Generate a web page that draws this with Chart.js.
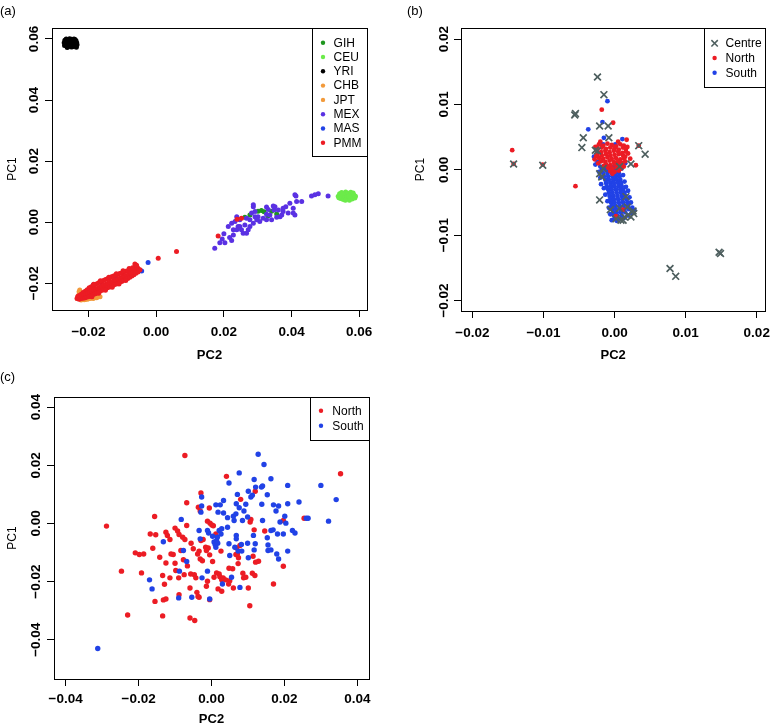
<!DOCTYPE html>
<html><head><meta charset="utf-8">
<script src="https://cdn.jsdelivr.net/npm/chart.js@4.4.0/dist/chart.umd.min.js"></script>
<style>
html,body{margin:0;padding:0;background:#fff;}
#wrap{position:relative;width:777px;height:726px;overflow:hidden;background:#fff;}
canvas{position:absolute;}
.lab{position:absolute;font-family:"Liberation Sans",Arial,sans-serif;font-size:13px;color:#000;line-height:13px;}
</style></head><body>
<div id="wrap">
<canvas id="ca" width="390" height="370" style="left:0;top:0"></canvas>
<canvas id="cb" width="387" height="370" style="left:390px;top:0"></canvas>
<canvas id="cc" width="390" height="361" style="left:0;top:365px"></canvas>
<div class="lab" style="left:0;top:4px">(a)</div>
<div class="lab" style="left:407px;top:4px">(b)</div>
<div class="lab" style="left:0;top:370px">(c)</div>
</div>
<script>
const FONT = '"Liberation Sans", Arial, Helvetica, sans-serif';

// ---------- Panel (a) ----------
const aXTicks = [-0.02, 0.00, 0.02, 0.04, 0.06];
const aYTicks = [-0.02, 0.00, 0.02, 0.04, 0.06];
const aLabels = ['GIH','CEU','YRI','CHB','JPT','MEX','MAS','PMM'];
const aGIH = [[0.0262,0.0016],[0.0277,0.0024],[0.0301,0.0036],[0.0311,0.0038],[0.0319,0.0034],[0.0341,0.0036],[0.0356,0.0027],[0.0330,0.0020]];
const aCEU = [[0.0538,0.0085],[0.0542,0.0093],[0.0545,0.0078],[0.0548,0.0097],[0.0550,0.0088],[0.0553,0.0074],[0.0556,0.0092],[0.0558,0.0083],[0.0560,0.0099],[0.0562,0.0077],[0.0565,0.0089],[0.0567,0.0095],[0.0569,0.0080],[0.0571,0.0072],[0.0573,0.0090],[0.0575,0.0098],[0.0577,0.0084],[0.0579,0.0076],[0.0581,0.0092],[0.0583,0.0082],[0.0585,0.0088],[0.0587,0.0079],[0.0589,0.0085],[0.0540,0.0080],[0.0552,0.0095],[0.0564,0.0083],[0.0574,0.0079],[0.0582,0.0096],[0.0559,0.0072],[0.0570,0.0086]];
const aYRI = [[-0.0272,0.0588],[-0.0270,0.0596],[-0.0268,0.0580],[-0.0266,0.0600],[-0.0264,0.0590],[-0.0262,0.0577],[-0.0260,0.0597],[-0.0258,0.0585],[-0.0256,0.0601],[-0.0254,0.0580],[-0.0252,0.0593],[-0.0250,0.0599],[-0.0249,0.0584],[-0.0247,0.0575],[-0.0245,0.0592],[-0.0243,0.0600],[-0.0241,0.0587],[-0.0239,0.0578],[-0.0237,0.0594],[-0.0236,0.0573],[-0.0235,0.0588],[-0.0234,0.0581],[-0.0271,0.0579],[-0.0263,0.0572],[-0.0255,0.0592],[-0.0246,0.0582],[-0.0240,0.0598],[-0.0265,0.0593],[-0.0251,0.0574],[-0.0244,0.0577],[-0.0258,0.0576],[-0.0238,0.0585]];
const aCHB = [[-0.0226,-0.0222],[-0.0230,-0.0240],[-0.0219,-0.0252],[-0.0210,-0.0253],[-0.0200,-0.0251],[-0.0190,-0.0248],[-0.0224,-0.0232],[-0.0215,-0.0246],[-0.0205,-0.0244],[-0.0195,-0.0240],[-0.0183,-0.0245],[-0.0172,-0.0242]];
const aJPT = [[-0.0233,-0.0250],[-0.0222,-0.0255],[-0.0213,-0.0254],[-0.0204,-0.0252],[-0.0196,-0.0250],[-0.0186,-0.0250],[-0.0176,-0.0247],[-0.0166,-0.0244],[-0.0228,-0.0228],[-0.0218,-0.0240],[-0.0208,-0.0236],[-0.0198,-0.0232]];
const aMEX = [[0.0173,-0.0085],[0.0188,-0.0067],[0.0203,-0.0067],[0.0200,-0.0038],[0.0223,-0.0060],[0.0213,-0.0014],[0.0228,-0.0025],[0.0223,-0.0003],[0.0233,0.0002],[0.0242,-0.0014],[0.0252,-0.0025],[0.0257,-0.0036],[0.0238,0.0018],[0.0247,0.0008],[0.0267,0.0013],[0.0282,0.0030],[0.0287,0.0051],[0.0292,0.0035],[0.0301,0.0018],[0.0306,0.0002],[0.0316,0.0013],[0.0326,0.0026],[0.0331,0.0042],[0.0336,0.0024],[0.0348,0.0040],[0.0351,0.0051],[0.0361,0.0040],[0.0366,0.0018],[0.0375,0.0035],[0.0383,0.0051],[0.0390,0.0030],[0.0395,0.0062],[0.0405,0.0046],[0.0415,0.0068],[0.0410,0.0024],[0.0413,0.0086],[0.0430,0.0068],[0.0459,0.0086],[0.0469,0.0090],[0.0479,0.0093],[0.0508,0.0086],[0.0277,-0.0014],[0.0287,-0.0003],[0.0272,-0.0025],[0.0262,-0.0009],[0.0297,0.0008],[0.0326,0.0008],[0.0356,0.0016],[0.0341,0.0008],[0.0371,0.0024],[0.0277,0.0008],[0.0292,0.0018],[0.0247,-0.0014],[0.0238,-0.0025],[0.0267,-0.0036],[0.0228,-0.0042],[0.0410,0.0090],[0.0405,0.0030],[0.0287,0.0057],[0.0326,0.0050],[0.0346,0.0053],[0.0375,0.0046],[0.0217,-0.0050],[0.0195,-0.0055]];
const aMAS = [[-0.0186,-0.0206],[-0.0024,-0.0132],[-0.0043,-0.0160],[-0.0077,-0.0167],[-0.0160,-0.0205],[-0.0120,-0.0185],[-0.0200,-0.0228],[-0.0215,-0.0236]];
const aPMM = [[-0.0234,-0.0250],[-0.0232,-0.0243],
[-0.0228,-0.0252],[-0.0228,-0.0240],[-0.0226,-0.0246],
[-0.0222,-0.0250],[-0.0222,-0.0236],[-0.0220,-0.0243],
[-0.0216,-0.0249],[-0.0216,-0.0230],[-0.0214,-0.0240],
[-0.0210,-0.0247],[-0.0210,-0.0226],[-0.0208,-0.0236],
[-0.0204,-0.0245],[-0.0204,-0.0221],[-0.0202,-0.0233],
[-0.0198,-0.0243],[-0.0198,-0.0215],[-0.0196,-0.0229],
[-0.0192,-0.0240],[-0.0192,-0.0211],[-0.0190,-0.0226],
[-0.0186,-0.0237],[-0.0186,-0.0208],[-0.0184,-0.0222],
[-0.0180,-0.0234],[-0.0180,-0.0204],[-0.0178,-0.0219],
[-0.0174,-0.0231],[-0.0174,-0.0201],[-0.0172,-0.0216],
[-0.0168,-0.0227],[-0.0168,-0.0197],[-0.0166,-0.0212],
[-0.0162,-0.0224],[-0.0162,-0.0194],[-0.0160,-0.0209],
[-0.0156,-0.0221],[-0.0156,-0.0191],[-0.0154,-0.0206],
[-0.0150,-0.0218],[-0.0150,-0.0188],[-0.0148,-0.0203],
[-0.0144,-0.0215],[-0.0144,-0.0185],[-0.0142,-0.0200],
[-0.0138,-0.0212],[-0.0138,-0.0182],[-0.0136,-0.0197],
[-0.0132,-0.0209],[-0.0132,-0.0179],[-0.0130,-0.0194],
[-0.0126,-0.0206],[-0.0126,-0.0176],[-0.0124,-0.0191],
[-0.0120,-0.0203],[-0.0120,-0.0174],[-0.0118,-0.0189],
[-0.0114,-0.0200],[-0.0114,-0.0171],[-0.0112,-0.0186],
[-0.0108,-0.0197],[-0.0108,-0.0168],[-0.0106,-0.0183],
[-0.0102,-0.0194],[-0.0102,-0.0166],[-0.0100,-0.0180],
[-0.0096,-0.0190],[-0.0096,-0.0163],[-0.0094,-0.0177],
[-0.0090,-0.0187],[-0.0090,-0.0161],[-0.0088,-0.0175],
[-0.0084,-0.0184],[-0.0084,-0.0159],[-0.0082,-0.0172],
[-0.0078,-0.0180],[-0.0078,-0.0157],[-0.0076,-0.0169],
[-0.0072,-0.0176],[-0.0072,-0.0155],[-0.0070,-0.0166],
[-0.0066,-0.0172],[-0.0066,-0.0153],[-0.0064,-0.0163],
[-0.0060,-0.0167],[-0.0060,-0.0152],
[-0.0054,-0.0163],[-0.0054,-0.0151],
[-0.0048,-0.0156],
[-0.0190,-0.0244],[-0.0170,-0.0233],[-0.0150,-0.0223],[-0.0130,-0.0213],[-0.0110,-0.0202],[-0.0090,-0.0191],
[-0.0185,-0.0203],[-0.0165,-0.0192],[-0.0140,-0.0180],[-0.0118,-0.0169],[-0.0098,-0.0159],[-0.0080,-0.0152],[-0.0070,-0.0149],[-0.0058,-0.0146],
[-0.0063,-0.0137],[-0.0058,-0.0141],[0.0006,-0.0118],[0.0060,-0.0096],
[0.0183,-0.0045],[0.0239,0.0010],[0.0252,0.0013]];

// ---------- Panel (b) ----------
const bXTicks = [-0.02, -0.01, 0.00, 0.01, 0.02];
const bYTicks = [-0.02, -0.01, 0.00, 0.01, 0.02];
const bLabels = ['Centre','North','South'];
const bCentre = [[-0.0024,0.0142],[-0.0015,0.0115],[-0.0056,0.0084],[-0.0055,0.0086],[-0.0021,0.0067],[-0.0009,0.0067],[-0.0044,0.0049],[-0.0046,0.0034],[-0.0008,0.0049],[-0.0024,0.0029],[-0.0027,0.0030],[-0.0142,0.0009],[-0.0101,0.0007],[0.0023,0.0009],[0.0043,0.0024],[0.0034,0.0037],[-0.0016,0.0002],[-0.0021,-0.0006],[-0.0018,-0.0011],[-0.0021,-0.0046],[-0.0006,-0.0061],[0.0007,-0.0059],[0.0002,-0.0075],[0.0009,-0.0077],[0.0012,-0.0077],[0.0014,-0.0072],[0.0019,-0.0069],[0.0026,-0.0063],[0.0027,-0.0067],[0.0023,-0.0072],[0.0018,-0.0057],[0.0016,-0.0041],[0.0007,0.0005],[0.0078,-0.0151],[0.0086,-0.0163],[0.0147,-0.0126],[0.0149,-0.0128]];
const bNorth = [[-0.0144,0.0030],[-0.0142,0.0009],[-0.0101,0.0008],[-0.0055,-0.0025],[-0.0018,0.0092],[-0.0002,0.0072],[0.0017,0.0046],[0.0034,0.0037],[0.0022,0.0017],[0.0030,0.0007],[0.0012,-0.0061],[0.0002,-0.0071],[-0.0023,0.0010],
[-0.0022,0.0039],[-0.0016,0.0037],[-0.0010,0.0040],[-0.0004,0.0038],[0.0002,0.0036],[0.0008,0.0039],[0.0013,0.0037],
[-0.0024,0.0033],[-0.0018,0.0034],[-0.0012,0.0032],[-0.0006,0.0034],[0.0000,0.0033],[0.0006,0.0031],[0.0012,0.0034],[0.0016,0.0032],
[-0.0025,0.0028],[-0.0019,0.0027],[-0.0013,0.0029],[-0.0007,0.0027],[-0.0001,0.0029],[0.0005,0.0028],[0.0011,0.0026],[0.0016,0.0028],
[-0.0024,0.0023],[-0.0018,0.0022],[-0.0012,0.0024],[-0.0006,0.0022],[0.0000,0.0023],[0.0006,0.0024],[0.0012,0.0022],[0.0015,0.0020],
[-0.0022,0.0018],[-0.0016,0.0017],[-0.0010,0.0019],[-0.0004,0.0017],[0.0002,0.0018],[0.0008,0.0016],[0.0013,0.0018],
[-0.0019,0.0013],[-0.0013,0.0012],[-0.0007,0.0014],[-0.0001,0.0012],[0.0005,0.0013],[0.0010,0.0011],
[-0.0012,0.0008],[-0.0006,0.0007],[0.0000,0.0009],[0.0006,0.0007],[0.0011,0.0008],
[-0.0009,0.0003],[-0.0003,0.0002],[0.0003,0.0004],[0.0009,0.0002],
[-0.0006,-0.0002],[0.0000,-0.0003],[0.0006,-0.0001],
[-0.0027,0.0035],[-0.0026,0.0021],[0.0019,0.0025],[0.0018,0.0035],[-0.0020,0.0043],[0.0005,0.0043],[-0.0028,0.0016],[0.0013,0.0005],[-0.0015,0.0006],[0.0015,0.0013],[-0.0003,-0.0006]];
const bSouth = [[-0.0010,0.0105],[-0.0017,0.0073],[-0.0037,0.0062],[-0.0015,0.0049],[0.0011,0.0047],[0.0001,0.0039],[-0.0016,0.0039],[-0.0029,0.0020],[-0.0027,0.0008],[-0.0020,0.0040],
[-0.0020,0.0005],[-0.0014,0.0005],[-0.0008,0.0005],[-0.0002,0.0005],[0.0004,0.0005],
[-0.0018,0.0000],[-0.0012,0.0000],[-0.0006,0.0000],[0.0000,0.0000],[0.0006,0.0000],
[-0.0016,-0.0005],[-0.0010,-0.0005],[-0.0004,-0.0005],[0.0001,-0.0005],[0.0006,-0.0005],
[-0.0015,-0.0010],[-0.0009,-0.0010],[-0.0003,-0.0010],[0.0002,-0.0010],[0.0007,-0.0010],
[-0.0013,-0.0015],[-0.0008,-0.0015],[-0.0002,-0.0015],[0.0003,-0.0015],[0.0008,-0.0015],
[-0.0012,-0.0020],[-0.0006,-0.0020],[-0.0001,-0.0020],[0.0005,-0.0020],[0.0009,-0.0020],
[-0.0011,-0.0025],[-0.0005,-0.0025],[0.0000,-0.0025],[0.0006,-0.0025],[0.0010,-0.0025],
[-0.0009,-0.0030],[-0.0004,-0.0030],[0.0002,-0.0030],[0.0008,-0.0030],[0.0012,-0.0030],
[-0.0008,-0.0035],[-0.0003,-0.0035],[0.0003,-0.0035],[0.0009,-0.0035],[0.0014,-0.0035],
[-0.0007,-0.0040],[-0.0002,-0.0040],[0.0004,-0.0040],[0.0010,-0.0040],[0.0015,-0.0040],
[-0.0006,-0.0045],[-0.0001,-0.0045],[0.0005,-0.0045],[0.0011,-0.0045],[0.0017,-0.0045],
[-0.0005,-0.0050],[0.0000,-0.0050],[0.0006,-0.0050],[0.0012,-0.0050],[0.0018,-0.0050],
[-0.0004,-0.0055],[0.0001,-0.0055],[0.0007,-0.0055],[0.0013,-0.0055],[0.0019,-0.0055],
[-0.0003,-0.0060],[0.0002,-0.0060],[0.0008,-0.0060],[0.0014,-0.0060],[0.0020,-0.0060],
[-0.0002,-0.0065],[0.0003,-0.0065],[0.0009,-0.0065],[0.0015,-0.0065],
[-0.0001,-0.0070],[0.0004,-0.0070],[0.0010,-0.0070],
[0.0000,-0.0075],[0.0006,-0.0075],
[-0.0022,-0.0003],[-0.0020,-0.0012],[-0.0019,-0.0022],[0.0010,0.0002],[0.0012,-0.0008],[0.0014,-0.0018],[0.0016,-0.0026],[-0.0015,-0.0028],[-0.0013,-0.0038],[0.0019,-0.0032],[0.0021,-0.0042],[0.0023,-0.0050],[0.0025,-0.0058],[-0.0010,-0.0048],[-0.0008,-0.0058],[0.0024,-0.0066],[0.0019,-0.0070],[-0.0006,-0.0068],[0.0013,-0.0074],[-0.0004,-0.0077],[0.0003,-0.0078],[-0.0024,0.0012],[0.0015,0.0010],[0.0028,-0.0062],[0.0004,0.0010]];

// ---------- Panel (c) ----------
const cXTicks = [-0.04, -0.02, 0.00, 0.02, 0.04];
const cYTicks = [-0.04, -0.02, 0.00, 0.02, 0.04];
const cLabels = ['North','South'];
const cNorth = [[-0.0073,0.0234],[-0.0288,-0.0009],[-0.0247,-0.0164],[-0.0230,-0.0315],[-0.0209,-0.0101],[-0.0198,-0.0107],[-0.0186,-0.0105],[-0.0192,-0.0170],[-0.0168,-0.0036],[-0.0153,-0.0039],[-0.0156,0.0024],[-0.0161,-0.0085],[-0.0142,-0.0116],[-0.0134,-0.0179],[-0.0129,-0.0209],[-0.0155,-0.0268],[-0.0132,-0.0263],[-0.0125,-0.0260],[-0.0134,-0.0318],[-0.0125,-0.0136],[-0.0125,-0.0030],[-0.0121,-0.0041],[-0.0114,-0.0055],[-0.0111,-0.0105],[-0.0105,-0.0107],[-0.0100,-0.0016],[-0.0093,-0.0026],[-0.0089,-0.0038],[-0.0100,-0.0137],[-0.0098,-0.0162],[-0.0090,-0.0187],[-0.0089,-0.0245],[-0.0084,-0.0093],[-0.0077,-0.0125],[-0.0075,-0.0176],[-0.0068,0.0071],[-0.0073,-0.0055],[-0.0066,-0.0146],[-0.0059,-0.0222],[-0.0059,-0.0325],[-0.0046,-0.0334],[-0.0056,-0.0068],[-0.0050,-0.0087],[-0.0047,-0.0176],[-0.0043,-0.0187],[-0.0040,-0.0237],[-0.0037,-0.0251],[-0.0034,-0.0254],[-0.0036,0.0056],[-0.0031,0.0043],[-0.0029,0.0105],[-0.0034,-0.0095],[-0.0031,-0.0122],[-0.0025,-0.0128],[-0.0023,-0.0055],[-0.0016,-0.0082],[-0.0014,-0.0093],[-0.0014,-0.0216],[-0.0011,0.0008],[-0.0006,0.0053],[-0.0005,-0.0262],[-0.0004,0.0001],[0.0001,-0.0005],[0.0003,-0.0131],[0.0005,-0.0008],[-0.0009,-0.0084],[-0.0005,-0.0108],[0.0014,-0.0170],[0.0018,-0.0225],[0.0021,-0.0174],[0.0023,-0.0183],[0.0028,-0.0194],[0.0028,-0.0233],[0.0032,-0.0187],[0.0026,-0.0095],[0.0041,0.0162],[0.0048,-0.0154],[0.0050,-0.0197],[0.0060,-0.0222],[0.0067,-0.0107],[0.0071,-0.0105],[0.0069,-0.0084],[0.0078,-0.0076],[0.0074,-0.0118],[0.0080,0.0083],[0.0086,-0.0171],[0.0088,-0.0187],[0.0101,-0.0222],[0.0105,-0.0283],[0.0108,0.0014],[0.0106,0.0005],[0.0112,-0.0171],[0.0114,-0.0113],[0.0119,-0.0179],[0.0120,0.0111],[0.0117,-0.0022],[0.0121,-0.0133],[0.0129,-0.0130],[0.0146,-0.0026],[0.0170,-0.0208],[0.0197,0.0010],[0.0197,-0.0147],[0.0254,0.0018],[0.0354,0.0171],[-0.0068,-0.0007],[-0.0114,-0.0187],[-0.0079,-0.0047],[-0.0029,-0.0059],[-0.0011,-0.0199],[0.0007,-0.0185],[0.0039,-0.0194],[0.0058,-0.0156],[0.0047,-0.0208],[0.0094,-0.0185],[0.0073,-0.0138],[0.0012,-0.0036],[-0.0038,-0.0105],[-0.0057,-0.0174]];
const cSouth = [[-0.0312,-0.0430],[-0.0170,-0.0194],[-0.0163,-0.0225],[-0.0132,-0.0063],[-0.0090,-0.0256],[-0.0088,-0.0164],[-0.0083,0.0014],[-0.0077,-0.0093],[-0.0068,-0.0131],[-0.0054,-0.0254],[-0.0031,-0.0053],[-0.0034,-0.0024],[-0.0027,0.0060],[-0.0029,0.0039],[-0.0027,0.0091],[-0.0026,-0.0187],[-0.0011,-0.0164],[-0.0008,-0.0033],[-0.0005,-0.0260],[0.0007,-0.0064],[0.0010,-0.0072],[0.0014,-0.0059],[0.0016,-0.0047],[0.0012,0.0064],[0.0018,0.0039],[0.0024,0.0064],[0.0021,-0.0024],[0.0026,-0.0036],[0.0028,-0.0018],[0.0033,0.0079],[0.0033,0.0036],[0.0030,-0.0208],[0.0048,0.0139],[0.0044,-0.0013],[0.0048,-0.0070],[0.0050,-0.0110],[0.0055,-0.0185],[0.0060,0.0025],[0.0062,0.0010],[0.0064,-0.0082],[0.0068,0.0068],[0.0068,-0.0041],[0.0068,-0.0053],[0.0071,0.0100],[0.0076,0.0174],[0.0076,0.0054],[0.0073,-0.0095],[0.0078,-0.0220],[0.0082,-0.0072],[0.0083,-0.0095],[0.0085,0.0010],[0.0089,0.0043],[0.0094,0.0066],[0.0099,-0.0068],[0.0101,0.0111],[0.0101,-0.0118],[0.0108,0.0091],[0.0112,0.0097],[0.0115,-0.0041],[0.0117,0.0151],[0.0117,-0.0091],[0.0120,-0.0070],[0.0121,0.0125],[0.0128,0.0238],[0.0137,0.0125],[0.0140,0.0129],[0.0138,0.0066],[0.0140,0.0010],[0.0144,0.0203],[0.0153,0.0099],[0.0153,-0.0049],[0.0155,-0.0074],[0.0155,-0.0093],[0.0163,0.0154],[0.0163,-0.0024],[0.0163,-0.0091],[0.0169,-0.0022],[0.0170,0.0064],[0.0177,0.0043],[0.0181,-0.0036],[0.0184,0.0060],[0.0179,-0.0105],[0.0184,-0.0122],[0.0188,0.0005],[0.0197,-0.0036],[0.0201,0.0025],[0.0204,0.0001],[0.0209,0.0131],[0.0209,0.0068],[0.0209,-0.0095],[0.0222,-0.0024],[0.0229,-0.0033],[0.0240,0.0074],[0.0260,0.0018],[0.0265,0.0018],[0.0300,0.0131],[0.0321,0.0008],[0.0342,0.0082],[0.0003,-0.0044],[0.0012,-0.0082],[0.0017,-0.0068],[-0.0011,-0.0024],[0.0044,0.0020],[0.0067,0.0033],[0.0099,0.0022]];

// ---------- helpers ----------
function pts(arr){ return arr.map(p => ({x: p[0], y: p[1]})); }
function fmt(v){ if (Math.abs(v) < 1e-9) return '0.00'; return Number(v).toFixed(2).replace('-', '\u2212'); }

function dotSet(label, arr, color, order, r){
  return {label, data: pts(arr), backgroundColor: color, borderColor: color,
    pointBackgroundColor: color, pointBorderColor: color, pointRadius: r, pointBorderWidth: 0,
    pointHoverRadius: r, pointStyle: 'circle', showLine: false, order};
}
function crossSet(label, arr, color, order){
  return {label, data: pts(arr), backgroundColor: color, borderColor: color,
    pointBackgroundColor: color, pointBorderColor: color, pointRadius: 4.8, pointBorderWidth: 1.7,
    pointHoverRadius: 4.8, pointStyle: 'crossRot', showLine: false, order};
}

function scales(o){
  return {
    x: {type: 'linear', position: 'bottom', min: o.xmin, max: o.xmax, bounds: 'data',
      afterBuildTicks: s => { s.ticks = o.xt.map(v => ({value: v})); },
      afterFit: s => { s.height = o.xh; },
      grid: {drawOnChartArea: false, drawTicks: true, tickLength: 7, color: '#000', lineWidth: 1},
      border: {display: false},
      ticks: {callback: fmt, autoSkip: false, maxRotation: 0, minRotation: 0, padding: o.xpad, color: '#000',
        font: {family: FONT, size: 13.5, weight: 'bold'}},
      title: {display: true, text: 'PC2', color: '#000', padding: {top: 0, bottom: o.xtp},
        font: {family: FONT, size: 13, weight: 'bold', lineHeight: 1}}
    },
    y: {type: 'linear', position: 'left', min: o.ymin, max: o.ymax, bounds: 'data',
      afterBuildTicks: s => { s.ticks = o.yt.map(v => ({value: v})); },
      afterFit: s => { s.width = o.yw; },
      grid: {drawOnChartArea: false, drawTicks: true, tickLength: 7, color: '#000', lineWidth: 1},
      border: {display: false},
      ticks: {callback: fmt, autoSkip: false, minRotation: 90, maxRotation: 90, crossAlign: 'center',
        padding: o.ypad, color: '#000', font: {family: FONT, size: 13.5, weight: 'bold'}},
      title: {display: true, text: 'PC1', color: '#000', padding: {top: o.ytp, bottom: 0},
        font: {family: FONT, size: 12, weight: 'normal', lineHeight: 1}}
    }
  };
}

const framePlugin = {
  id: 'frame',
  afterDatasetsDraw(chart){
    const {ctx, chartArea: a} = chart;
    ctx.save();
    ctx.strokeStyle = '#000'; ctx.lineWidth = 1;
    ctx.strokeRect(Math.round(a.left) + 0.5, Math.round(a.top) + 0.5,
      Math.round(a.right) - Math.round(a.left), Math.round(a.bottom) - Math.round(a.top));
    ctx.restore();
  }
};

const legendPlugin = {
  id: 'boxLegend',
  afterDraw(chart, args, o){
    if (!o || !o.w) return;
    const {ctx, chartArea: a} = chart;
    const x0 = Math.round(a.right - o.w), y0 = Math.round(a.top);
    ctx.save();
    ctx.fillStyle = '#fff';
    ctx.fillRect(x0, y0, o.w, o.h);
    ctx.strokeStyle = '#000'; ctx.lineWidth = 1;
    ctx.strokeRect(x0 + 0.5, y0 + 0.5, o.w, o.h);
    ctx.font = '12px ' + FONT;
    ctx.textAlign = 'left'; ctx.textBaseline = 'middle';
    chart.data.datasets.forEach((ds, i) => {
      const cy = y0 + o.first + i * o.gap;
      const cx = x0 + o.mx;
      if (ds.pointStyle === 'crossRot') {
        ctx.strokeStyle = ds.borderColor; ctx.lineWidth = 1.5;
        const h = 3.2;
        ctx.beginPath();
        ctx.moveTo(cx - h, cy - h); ctx.lineTo(cx + h, cy + h);
        ctx.moveTo(cx - h, cy + h); ctx.lineTo(cx + h, cy - h);
        ctx.stroke();
      } else {
        ctx.fillStyle = ds.backgroundColor;
        ctx.beginPath(); ctx.arc(cx, cy, o.r, 0, Math.PI * 2); ctx.fill();
      }
      ctx.fillStyle = '#000';
      ctx.fillText(ds.label, x0 + o.tx, cy + 0.5);
    });
    ctx.restore();
  }
};

function makeChart(id, datasets, sc, pad, leg){
  return new Chart(document.getElementById(id), {
    type: 'scatter',
    data: {datasets},
    options: {
      responsive: false, animation: false, events: [],
      layout: {padding: pad, autoPadding: false},
      scales: scales(sc),
      plugins: {legend: {display: false}, tooltip: {enabled: false}, title: {display: false}, boxLegend: leg}
    },
    plugins: [framePlugin, legendPlugin]
  });
}

const RED = '#EC1C24', BLUE = '#2142E6', GREY = '#4E5F5F';

// (a)
const aData = [aGIH, aCEU, aYRI, aCHB, aJPT, aMEX, aMAS, aPMM];
const aCols = ['#1E961E', '#6CEB4A', '#000000', '#F29A3B', '#F29A3B', '#5A31E3', BLUE, RED];
makeChart('ca',
  aLabels.map((l, i) => dotSet(l, aData[i], aCols[i], aLabels.length - i, 2.5)),
  {xmin: -0.0308, xmax: 0.0623, ymin: -0.02875, ymax: 0.0636, xt: aXTicks, yt: aYTicks,
   xh: 60, yw: 52, xpad: 7, ypad: -6, xtp: 8.5, ytp: 6.5},
  {left: 0, top: 28, right: 23, bottom: 0},
  {w: 55, h: 128, first: 14.7, gap: 14.3, mx: 11, tx: 21.6, r: 2.2});

// (b)
makeChart('cb',
  [crossSet(bLabels[0], bCentre, GREY, 1), dotSet(bLabels[1], bNorth, RED, 2, 2.4), dotSet(bLabels[2], bSouth, BLUE, 3, 2.4)],
  {xmin: -0.0216, xmax: 0.0212, ymin: -0.0216, ymax: 0.0217, xt: bXTicks, yt: bYTicks,
   xh: 59, yw: 71, xpad: 7, ypad: -7, xtp: 8.5, ytp: 24.8},
  {left: 0, top: 28, right: 4, bottom: 0},
  {w: 61, h: 59, first: 15.3, gap: 14.7, mx: 10.6, tx: 21.6, r: 2.2});

// (c)
makeChart('cc',
  [dotSet(cLabels[0], cNorth, RED, 2, 2.7), dotSet(cLabels[1], cSouth, BLUE, 1, 2.7)],
  {xmin: -0.0432, xmax: 0.0432, ymin: -0.0535, ymax: 0.0435, xt: cXTicks, yt: cYTicks,
   xh: 47, yw: 54, xpad: 5, ypad: -6, xtp: 0, ytp: 6.5},
  {left: 0, top: 32, right: 21, bottom: 0},
  {w: 59, h: 43, first: 13.7, gap: 15, mx: 11, tx: 22.3, r: 2.2});
</script>
</body></html>
